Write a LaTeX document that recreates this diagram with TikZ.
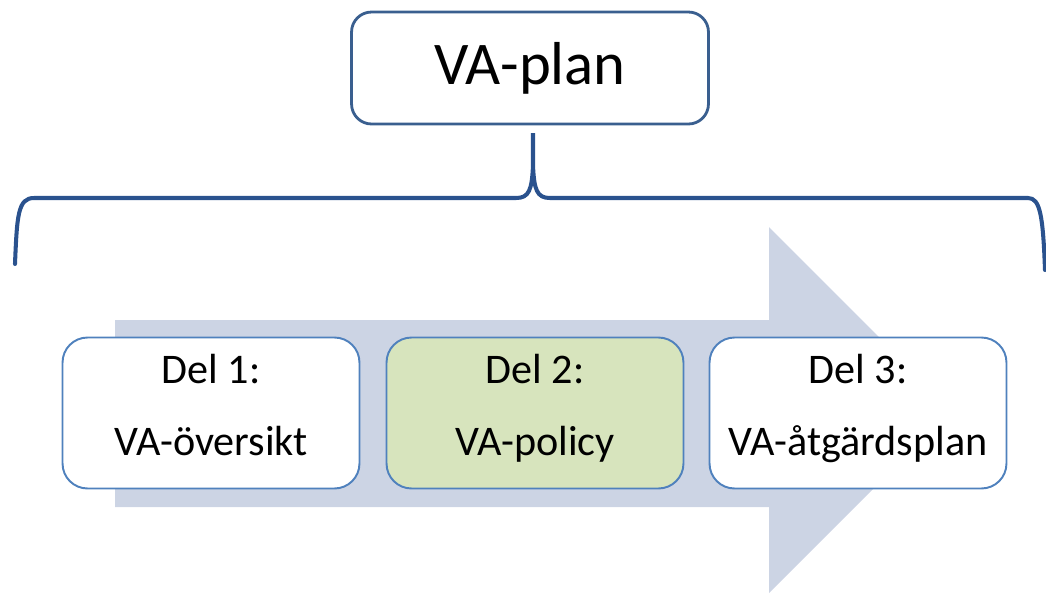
\documentclass[tikz,border=0pt]{standalone}
\usepackage{fontspec}
\setmainfont{Carlito}
\usepackage{tikz}

\definecolor{bracecol}{RGB}{42,82,142}
\definecolor{topcol}{RGB}{58,95,143}
\definecolor{boxcol}{RGB}{79,129,189}
\definecolor{pilcol}{RGB}{204,212,228}
\definecolor{gronfyll}{RGB}{215,228,189}

\tikzset{
  planbox/.style={rectangle,minimum width=7.14cm,minimum height=2.24cm,rounded corners=4mm,
    draw=topcol,line width=1.6pt,fill=white,font=\fontsize{34.5}{40}\selectfont},
  delbox/.style={rectangle,minimum width=5.94cm,minimum height=3.02cm,rounded corners=5mm,
    draw=boxcol,line width=1.1pt,fill=white,align=center,text depth=9pt,
    font=\fontsize{24}{41}\selectfont},
}

\begin{document}
\begin{tikzpicture}[x=0.02cm,y=-0.02cm]
\useasboundingbox (0,0) rectangle (1046,593);
\clip (0,0) rectangle (1046,593);

% stor pil i bakgrunden
\fill[pilcol] (115,320) -- (769,320) -- (769,227) -- (952,410) -- (769,593) -- (769,507) -- (115,507) -- cycle;

\node[planbox] (plan) at (530,68) {VA-plan};

% klammer
\draw[bracecol,line width=2.3pt,line cap=round]
  (15,264) .. controls (17,215) and (18,198) .. (34,198) -- (516,198)
  .. controls (529,198) and (532,190) .. (533,165) -- (533,133)
  -- (533,165) .. controls (534,190) and (537,198) .. (550,198) -- (1028,198)
  .. controls (1040,198) and (1043,215) .. (1045,270);

\node[delbox] (del1) at (211,413) {Del 1:\\VA-översikt};
\node[delbox,fill=gronfyll] (del2) at (535,413) {Del 2:\\VA-policy};
\node[delbox] (del3) at (858,413) {Del 3:\\VA-åtgärdsplan};
\end{tikzpicture}
\end{document}
